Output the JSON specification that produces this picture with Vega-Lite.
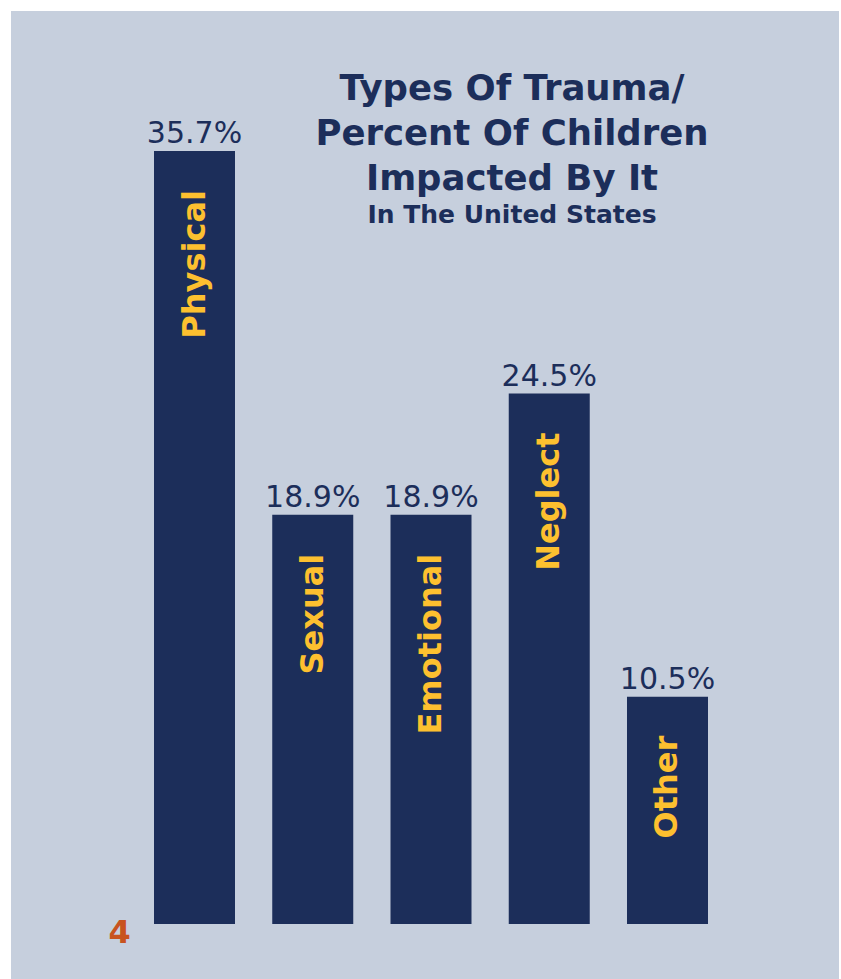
{
  "$schema": "https://vega.github.io/schema/vega-lite/v6.json",
  "width": 828,
  "height": 968,
  "autosize": {"type": "none"},
  "padding": {"left": 11, "top": 11, "right": 2, "bottom": 0},
  "background": "white",
  "config": {"view": {"fill": "#c6cfdd", "stroke": null}},
  "title": {
    "text": ["Types Of Trauma/", "Percent Of Children", "Impacted By It"],
    "subtitle": "In The United States",
    "anchor": "middle",
    "dx": 87,
    "offset": -217,
    "font": "DejaVu Sans",
    "fontWeight": "bold",
    "fontSize": 35.5,
    "lineHeight": 45,
    "color": "#1c2e5a",
    "subtitleFont": "DejaVu Sans",
    "subtitleFontWeight": "bold",
    "subtitleFontSize": 25,
    "subtitleColor": "#1c2e5a",
    "subtitlePadding": 6
  },
  "data": {
    "values": [
      {"type": "Physical", "pct": 35.7, "label": "35.7%"},
      {"type": "Sexual", "pct": 18.9, "label": "18.9%"},
      {"type": "Emotional", "pct": 18.9, "label": "18.9%"},
      {"type": "Neglect", "pct": 24.5, "label": "24.5%"},
      {"type": "Other", "pct": 10.5, "label": "10.5%"}
    ]
  },
  "encoding": {
    "x": {
      "field": "type",
      "type": "nominal",
      "sort": null,
      "scale": {"range": [143, 697], "paddingInner": 0.315, "paddingOuter": 0},
      "axis": {
        "labels": false,
        "ticks": false,
        "domain": false,
        "grid": false,
        "title": "4",
        "titleColor": "#c8531f",
        "titleFont": "DejaVu Sans",
        "titleFontWeight": "bold",
        "titleFontSize": 32,
        "titleX": 108,
        "titleY": -37,
        "titleAlign": "center",
        "titleBaseline": "alphabetic",
        "titleAngle": 0
      }
    },
    "y": {
      "field": "pct",
      "type": "quantitative",
      "scale": {"domain": [-2.54, 42.165], "nice": false, "zero": false},
      "axis": null
    }
  },
  "layer": [
    {
      "mark": {"type": "bar", "color": "#1c2e5a"},
      "encoding": {"y2": {"datum": 0}}
    },
    {
      "mark": {
        "type": "text",
        "baseline": "alphabetic",
        "align": "center",
        "dy": -8,
        "font": "DejaVu Sans",
        "fontSize": 30,
        "color": "#1c2e5a"
      },
      "encoding": {"text": {"field": "label"}}
    },
    {
      "mark": {
        "type": "text",
        "angle": 270,
        "align": "right",
        "baseline": "middle",
        "dx": -39,
        "font": "DejaVu Sans",
        "fontWeight": "bold",
        "fontSize": 32,
        "color": "#fdc02f"
      },
      "encoding": {"text": {"field": "type"}}
    }
  ]
}
